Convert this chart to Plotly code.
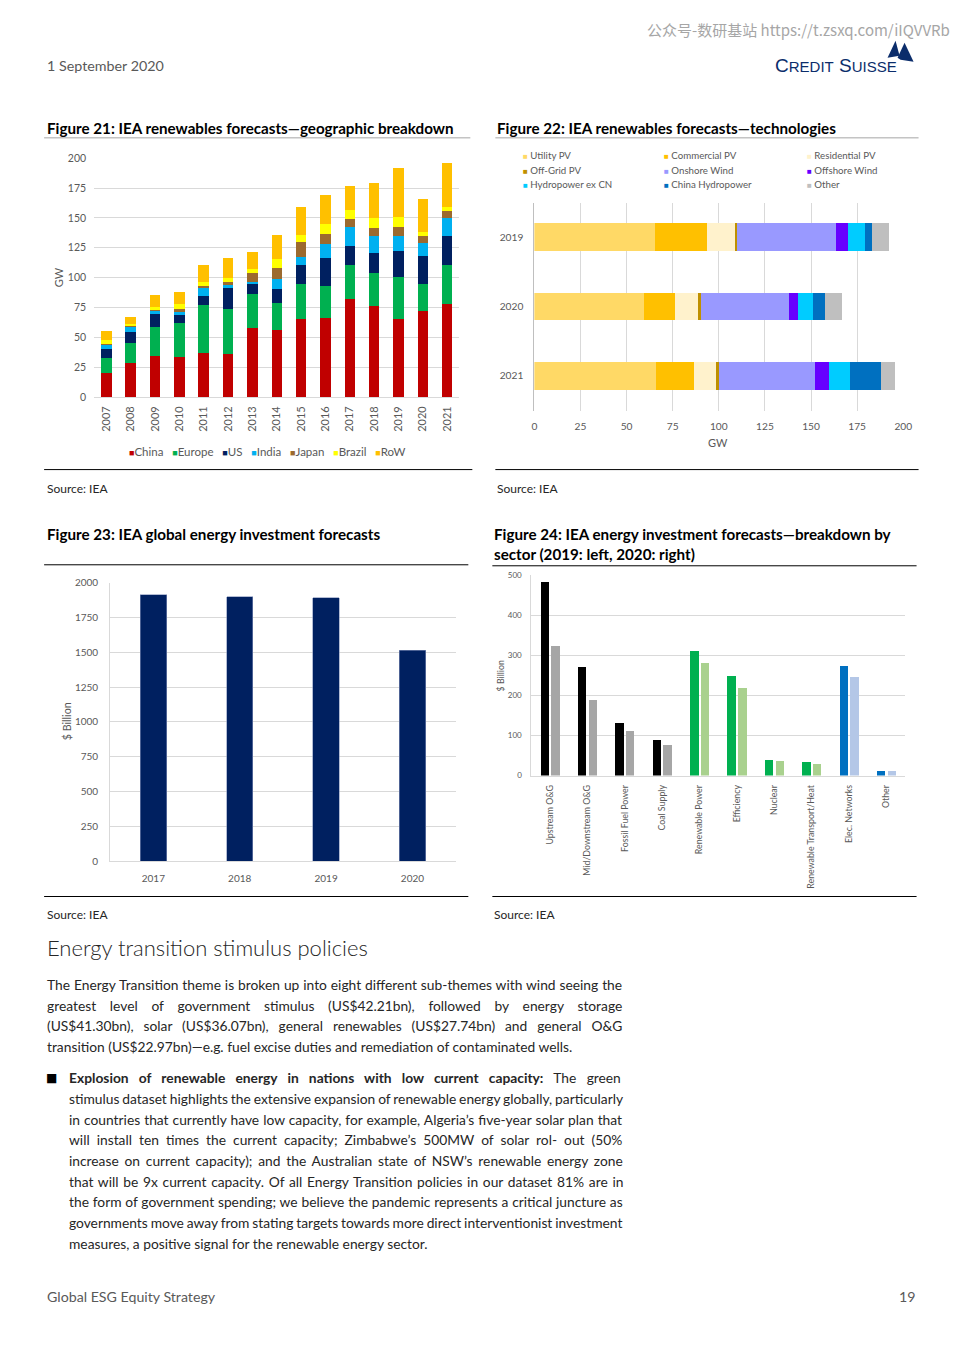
import plotly.graph_objects as go

# calibration of page coordinates (reference pixels -> figure pixels)
FW, FH = 960, 1357
def X(p): return ((p - 3) / 0.987 - 8) / FW
def Y(p): return 1 - ((p - 6.5) / 0.989 - 8) / FH

FONT = "Lato, Liberation Sans, Arial, sans-serif"
GRAY = "#595959"
TEXT = "#262626"
GRID = "#D9D9D9"

# ---------------- Figure 21: geographic breakdown (GW) ----------------
years21 = ["2007", "2008", "2009", "2010", "2011", "2012", "2013", "2014",
           "2015", "2016", "2017", "2018", "2019", "2020", "2021"]
regions21 = ["China", "Europe", "US", "India", "Japan", "Brazil", "RoW"]
china  = [20.4, 28.5, 34.4, 33.3, 36.6, 36.1, 57.9, 55.9, 65.2, 66.0, 82.2, 76.4, 65.2, 72.2, 78.0]
europe = [12.3, 17.1, 24.1, 28.8, 40.3, 37.7, 28.3, 23.0, 29.1, 26.9, 28.3, 27.4, 35.5, 22.9, 32.5]
us     = [7.3, 8.7, 11.4, 6.4, 8.1, 17.9, 8.1, 11.2, 16.7, 23.2, 15.9, 16.8, 21.8, 23.2, 24.0]
india  = [4.2, 5.0, 2.3, 3.1, 6.2, 2.3, 2.2, 8.4, 6.5, 12.3, 15.7, 13.9, 12.0, 10.7, 15.4]
japan  = [0.3, 0.3, 0.5, 2.2, 1.9, 2.2, 7.3, 10.0, 12.0, 8.4, 7.0, 7.0, 7.9, 6.1, 5.9]
brazil = [3.3, 2.0, 2.8, 4.0, 3.4, 3.4, 3.3, 7.0, 5.9, 8.1, 7.3, 8.4, 8.4, 2.8, 3.4]
row    = [7.9, 5.3, 10.3, 9.8, 13.7, 17.0, 14.6, 19.9, 23.5, 24.3, 20.1, 29.1, 41.1, 28.3, 36.9]
series21 = [china, europe, us, india, japan, brazil, row]
colors21 = ["#C00000", "#00B050", "#002060", "#00B0F0", "#9C6A2E", "#FFFF00", "#FFC000"]

# ---------------- Figure 22: technologies (GW) ----------------
years22 = ["2019", "2020", "2021"]
techs22 = ["Utility PV", "Commercial PV", "Residential PV", "Off-Grid PV", "Onshore Wind",
           "Offshore Wind", "Hydropower ex CN", "China Hydropower", "Other"]
utility_pv     = [65.3, 59.5, 66.2]
commercial_pv  = [28.3, 17.0, 20.3]
residential_pv = [15.4, 12.9, 12.6]
offgrid_pv     = [0.9, 0.9, 0.9]
onshore_wind   = [53.9, 47.7, 52.1]
offshore_wind  = [6.1, 4.7, 7.9]
hydro_ex_cn    = [9.2, 8.3, 11.0]
china_hydro    = [3.8, 6.8, 17.1]
other22        = [9.4, 8.9, 7.6]
series22 = [utility_pv, commercial_pv, residential_pv, offgrid_pv, onshore_wind,
            offshore_wind, hydro_ex_cn, china_hydro, other22]
colors22 = ["#FFD966", "#FFC000", "#FFF2CC", "#BF9000", "#9999FF",
            "#6600FF", "#00CCFF", "#0070C0", "#BFBFBF"]

# ---------------- Figure 23: global energy investment ($bn) ----------------
years23 = ["2017", "2018", "2019", "2020"]
invest23 = [1911, 1899, 1892, 1516]

# ---------------- Figure 24: investment by sector ($bn) ----------------
sectors24 = ["Upstream O&G", "Mid/Downstream O&G", "Fossil Fuel Power", "Coal Supply",
             "Renewable Power", "Efficiency", "Nuclear", "Renewable Transport/Heat",
             "Elec. Networks", "Other"]
inv2019 = [483, 272, 132, 89, 311, 249, 40, 34, 273, 11]
inv2020 = [322, 188, 111, 77, 280, 218, 36, 29, 247, 11]
colors2019 = ["#000000"] * 4 + ["#00B050"] * 4 + ["#0070C0"] * 2
colors2020 = ["#A6A6A6"] * 4 + ["#A9D18E"] * 4 + ["#B4C7E7"] * 2

fig = go.Figure()

for name, vals, col in zip(regions21, series21, colors21):
    fig.add_trace(go.Bar(x=years21, y=vals, name=name, marker_color=col, width=0.43,
                         marker_line_width=0, xaxis="x", yaxis="y"))

for name, vals, col in zip(techs22, series22, colors22):
    fig.add_trace(go.Bar(y=years22, x=vals, name=name, orientation="h", marker_color=col,
                         width=0.4, marker_line_width=0, xaxis="x2", yaxis="y2"))

fig.add_trace(go.Bar(x=years23, y=invest23, marker_color="#002060", width=0.305,
                     marker_line=dict(width=0.6, color="#8090B8"), xaxis="x3", yaxis="y3"))

fig.add_trace(go.Bar(x=sectors24, y=inv2019, marker_color=colors2019, width=0.225, offset=-0.25,
                     marker_line_width=0, xaxis="x4", yaxis="y4"))
fig.add_trace(go.Bar(x=sectors24, y=inv2020, marker_color=colors2020, width=0.225, offset=0.035,
                     marker_line_width=0, xaxis="x5", yaxis="y4"))

tick = lambda s: dict(size=s, color=GRAY, family=FONT)

fig.update_layout(
    width=FW, height=FH, margin=dict(l=0, r=0, t=0, b=0),
    paper_bgcolor="white", plot_bgcolor="rgba(0,0,0,0)",
    barmode="stack", showlegend=False,
    font=dict(family=FONT, color=GRAY),
    xaxis=dict(domain=[X(94), X(459)], anchor="y", type="category", tickangle=-90,
               tickfont=tick(11), showgrid=False, ticks="", ticklabelstandoff=6, showline=False),
    yaxis=dict(domain=[Y(396.7), Y(158.3)], anchor="x", range=[0, 200], dtick=25,
               gridcolor=GRID, zeroline=True, zerolinecolor=GRID, zerolinewidth=1,
               tickfont=tick(10.5), ticks="", ticklabelstandoff=7),
    xaxis2=dict(domain=[X(534), X(902.7)], anchor="y2", range=[0, 200], dtick=25,
                gridcolor=GRID, zeroline=False, tickfont=tick(10.2), ticks="", ticklabelstandoff=8),
    yaxis2=dict(domain=[Y(410.1), Y(202.6)], anchor="x2", type="category",
                autorange="reversed", showline=True, linecolor="#BFBFBF", ticks="",
                tickfont=tick(10.2), ticklabelstandoff=8),
    xaxis3=dict(domain=[X(110), X(455.3)], anchor="y3", type="category", showline=True,
                linecolor=GRID, ticks="", tickfont=tick(10), ticklabelstandoff=8),
    yaxis3=dict(domain=[Y(860), Y(581.7)], anchor="x3", range=[0, 2000], dtick=250,
                gridcolor=GRID, showline=True, linecolor=GRID, zeroline=False,
                tickfont=tick(10), ticks="", ticklabelstandoff=9),
    xaxis4=dict(domain=[X(531), X(904.4)], anchor="y4", type="category", range=[-0.5, 9.5],
                tickangle=-90, tickfont=tick(8.8), showline=True, linecolor=GRID,
                ticks="", ticklabelstandoff=5),
    xaxis5=dict(overlaying="x4", anchor="y4", type="category", range=[-0.5, 9.5], visible=False),
    yaxis4=dict(domain=[Y(774.3), Y(574.3)], anchor="x4", range=[0, 500], dtick=100,
                gridcolor=GRID, showline=True, linecolor=GRID, zeroline=False,
                tickfont=tick(8), ticks="", ticklabelstandoff=7),
)

ann = []
def txt(x, y, s, size, color=TEXT, anchor="left", family=FONT, angle=0, yanchor="middle", weight=None):
    f = dict(size=size, color=color, family=family)
    if weight is not None:
        f["weight"] = weight
    ann.append(dict(xref="paper", yref="paper", x=X(x), y=Y(y), text=s, showarrow=False,
                    xanchor=anchor, yanchor=yanchor, textangle=angle, font=f))

# header
txt(951, 30, "公众号-数研基站 https://t.zsxq.com/iIQVVRb", 15, color="#A6A6A6", anchor="right",
    family="Noto Sans CJK SC, Lato, sans-serif")
txt(45, 66, "1 September 2020", 14.3, color=GRAY)
txt(773, 66, "C<span style='font-size:15px'>REDIT</span> S<span style='font-size:15px'>UISSE</span>",
    19, color="#0B2D6B", family="Liberation Sans, Arial, sans-serif")

# titles
TB = "#000000"
txt(45, 128, "<b>Figure 21: IEA renewables forecasts—geographic breakdown</b>", 15.2, color=TB)
txt(495, 128, "<b>Figure 22: IEA renewables forecasts—technologies</b>", 15.2, color=TB)
txt(45, 533, "<b>Figure 23: IEA global energy investment forecasts</b>", 15.2, color=TB)
txt(492, 533, "<b>Figure 24: IEA energy investment forecasts—breakdown by</b>", 15.2, color=TB)
txt(492, 553, "<b>sector (2019: left, 2020: right)</b>", 15.2, color=TB)

# axis titles
txt(58, 277, "GW", 11, color=GRAY, anchor="center", angle=-90)
txt(718, 442, "GW", 11, color=GRAY, anchor="center")
txt(66, 720, "$ Billion", 10.7, color=GRAY, anchor="center", angle=-90)
txt(500, 675, "$ Billion", 8.8, color=GRAY, anchor="center", angle=-90)

# legend figure 21
leg21 = "   ".join(f"<span style='color:{c};font-size:9px'>■</span>{n}" for n, c in zip(regions21, colors21))
txt(267, 451, leg21, 11.5, color=GRAY, anchor="center")

# legend figure 22 (3 columns)
cols_x = [521, 662, 804]
rows_y = [155, 170, 184]
for i, (n, c) in enumerate(zip(techs22, colors22)):
    r, k = divmod(i, 3)
    txt(cols_x[k], rows_y[r], f"<span style='color:{c};font-size:8px'>■</span> {n}", 9.7, color=GRAY)

# sources
for sx, sy in [(45, 488), (495, 488), (45, 913), (492, 913)]:
    txt(sx, sy, "Source: IEA", 12, color=TEXT)

# body text (justified lines get extra word spacing)
BODY = 13.8
txt(45, 946, "Energy transition stimulus policies", 22, color=TEXT, weight=300)
para1 = [
    "The Energy Transition theme is broken up into eight different sub-themes with wind seeing the",
    "greatest level of government stimulus (US$42.21bn), followed by energy storage",
    "(US$41.30bn), solar (US$36.07bn), general renewables (US$27.74bn) and general O&G",
    "transition (US$22.97bn)—e.g. fuel excise duties and remediation of contaminated wells.",
]
ws1 = [0.4, 10.2, 6.4, 0]
for i, line in enumerate(para1):
    txt(45, 983 + i * 20.5, f"<span style='word-spacing:{ws1[i]}px'>{line}</span>", BODY, color=TEXT)

para2 = [
    "<b>Explosion of renewable energy in nations with low current capacity:</b> The green",
    "stimulus dataset highlights the extensive expansion of renewable energy globally, particularly",
    "in countries that currently have low capacity, for example, Algeria’s five-year solar plan that",
    "will install ten times the current capacity; Zimbabwe’s 500MW of solar rol- out (50%",
    "increase on current capacity); and the Australian state of NSW’s renewable energy zone",
    "that will be 9x current capacity. Of all Energy Transition policies in our dataset 81% are in",
    "the form of government spending; we believe the pandemic represents a critical juncture as",
    "governments move away from stating targets towards more direct interventionist investment",
    "measures, a positive signal for the renewable energy sector.",
]
ws2 = [6.8, -0.6, 0.5, 3.5, 2.25, 1.2, 0.25, -0.65, 0]
txt(44, 1076, "■", 12, color="#000000", family="DejaVu Sans")
for i, line in enumerate(para2):
    txt(67, 1076 + i * 20.6, f"<span style='word-spacing:{ws2[i]}px'>{line}</span>", BODY, color=TEXT)

# footer
txt(45, 1294, "Global ESG Equity Strategy", 14.2, color=GRAY)
txt(916, 1294, "19", 14.2, color=GRAY, anchor="right")

fig.update_layout(annotations=ann)

# rules
shapes = []
def hline(x0, x1, y, color, w):
    shapes.append(dict(type="line", xref="paper", yref="paper", x0=X(x0), x1=X(x1),
                       y0=Y(y), y1=Y(y), line=dict(color=color, width=w)))
hline(44, 470, 138, "#A6A6A6", 1)
hline(495, 918, 138, "#A6A6A6", 1)
hline(44, 472, 469, "#000000", 1)
hline(495, 918, 469, "#000000", 1)
hline(44, 468, 564, "#000000", 1)
hline(492, 916, 565, "#000000", 1)
hline(44, 468, 895, "#000000", 1)
hline(492, 916, 895, "#000000", 1)

# logo sails
def path(pts):
    return "M " + " L ".join(f"{X(a):.5f},{Y(b):.5f}" for a, b in pts) + " Z"
shapes.append(dict(type="path", xref="paper", yref="paper",
                   path=path([(887, 58), (895, 41), (899, 56)]),
                   fillcolor="#0B2D6B", line=dict(width=0)))
shapes.append(dict(type="path", xref="paper", yref="paper",
                   path=path([(897, 58), (904, 43), (913, 62), (900, 60)]),
                   fillcolor="#0B2D6B", line=dict(width=0)))
fig.update_layout(shapes=shapes)

fig.write_html("out.html")
